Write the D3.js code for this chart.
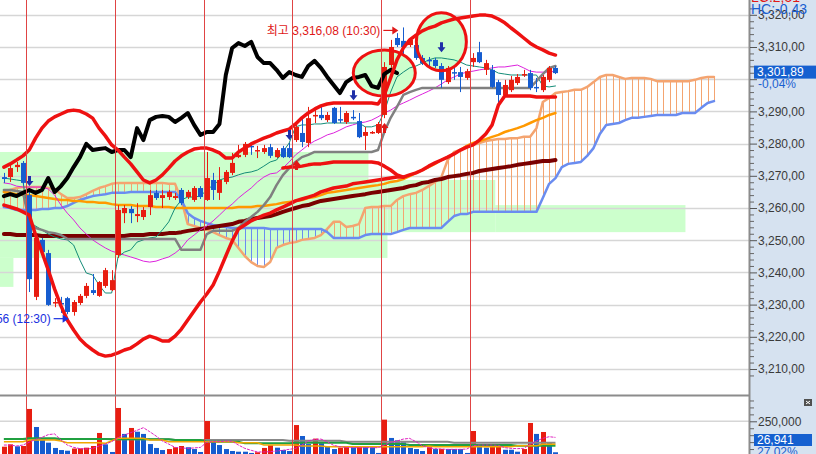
<!DOCTYPE html>
<html>
<head>
<meta charset="utf-8">
<script src="https://cdn.jsdelivr.net/npm/d3@7"></script>
<style>
  body { margin: 0; background: #fff; }
  svg { display: block; }
  text { font-family: "Liberation Sans", "Noto Sans CJK KR", sans-serif; }
</style>
</head>
<body>
<svg id="chart" width="816" height="454"></svg>
<script>
// 30-minute bars, 14 per session: [open, high, low, close]
const ohlc = [
  [3269.6,3270.9,3267.8,3269.0],[3269.6,3273.4,3268.1,3272.4],[3272.7,3274.3,3271.2,3273.4],[3274.0,3274.6,3267.1,3267.8],
  [3264.0,3265.6,3233.9,3237.9],[3232.4,3251.6,3231.4,3250.7],[3250.1,3250.7,3245.4,3246.3],[3246.0,3247.0,3229.6,3229.9],
  [3230.5,3232.0,3229.2,3230.8],[3230.5,3232.4,3227.4,3230.2],[3232.0,3232.4,3227.0,3227.7],[3227.7,3231.4,3226.56,3230.8],
  [3230.5,3233.3,3229.9,3232.7],[3232.7,3236.7,3232.0,3235.8],[3234.5,3239.5,3233.0,3233.6],[3232.7,3237.3,3232.4,3237.0],
  [3235.8,3241.4,3235.2,3240.7],[3234.5,3240.7,3234.2,3237.6],[3245.4,3260.9,3244.5,3259.4],[3258.4,3260.9,3255.3,3260.0],
  [3259.7,3260.6,3255.3,3258.4],[3257.5,3261.5,3255.6,3258.1],[3257.2,3260.3,3256.3,3259.4],[3260.3,3265.6,3257.8,3264.0],
  [3264.7,3265.6,3262.5,3263.1],[3263.1,3265.6,3260.0,3264.0],[3263.4,3265.6,3262.5,3265.0],[3263.1,3264.7,3262.5,3263.7],
  [3265.6,3266.2,3260.9,3261.5],[3263.4,3265.6,3262.8,3265.0],[3262.5,3266.8,3261.9,3266.2],[3266.2,3266.8,3262.8,3263.4],
  [3262.5,3277.4,3262.2,3269.3],[3268.7,3270.9,3262.5,3265.6],[3264.7,3272.7,3262.5,3268.7],[3268.1,3271.8,3267.4,3271.2],
  [3270.9,3277.1,3270.2,3274.0],[3275.8,3279.6,3275.5,3276.5],[3276.5,3280.5,3275.8,3279.9],[3279.3,3280.2,3276.5,3278.9],
  [3277.7,3279.3,3275.5,3278.0],[3277.4,3279.6,3276.8,3278.6],[3278.9,3279.9,3275.5,3276.2],[3275.8,3278.6,3275.5,3278.0],
  [3278.6,3279.3,3275.5,3275.8],[3278.6,3280.2,3275.5,3275.8],[3281.1,3286.4,3280.5,3285.2],[3283.3,3288.3,3278.9,3280.5],
  [3280.2,3291.4,3278.9,3287.9],[3288.6,3291.4,3286.4,3288.9],[3288.9,3291.4,3287.3,3287.9],[3287.3,3289.8,3286.7,3288.9],
  [3291.1,3291.4,3286.1,3286.4],[3287.6,3291.4,3286.4,3287.3],[3286.7,3290.1,3286.1,3289.5],[3288.3,3290.4,3287.3,3287.9],
  [3287.0,3289.5,3281.7,3282.0],[3282.4,3285.2,3278.0,3283.6],[3283.3,3283.9,3283.0,3283.6],[3283.3,3286.7,3283.0,3286.1],
  [3288.9,3305.3,3287.9,3303.8],[3304.4,3312.2,3303.5,3310.0],[3312.8,3314.3,3310.0,3310.6],[3311.9,3316.08,3307.5,3310.0],
  [3310.6,3312.8,3310.0,3312.2],[3310.6,3312.2,3306.0,3306.6],[3306.6,3307.5,3304.4,3305.0],[3306.0,3306.9,3303.8,3305.7],
  [3306.0,3306.6,3303.5,3304.1],[3304.1,3305.0,3297.3,3299.8],[3299.1,3304.1,3298.5,3303.5],[3302.2,3303.8,3299.8,3301.9],
  [3302.2,3303.8,3296.0,3300.7],[3300.4,3303.2,3299.8,3302.5],[3305.3,3308.1,3303.8,3306.6],[3308.4,3311.6,3305.0,3305.3],
  [3302.9,3306.0,3301.3,3305.0],[3302.9,3304.4,3297.3,3297.6],[3299.1,3299.8,3291.4,3295.1],[3295.1,3299.8,3294.5,3298.2],
  [3296.6,3301.0,3296.0,3299.8],[3298.8,3301.6,3298.2,3300.7],[3301.3,3302.9,3300.7,3301.6],[3301.9,3302.9,3296.6,3297.3],
  [3297.6,3300.4,3296.0,3297.3],[3296.6,3301.3,3296.0,3300.7],[3299.8,3304.1,3299.1,3303.5],[3303.5,3304.1,3301.6,3301.89]
];

const volumes = [
  67000,84000,70000,72000,339000,209000,115000,96000,58000,43000,
  38000,54000,55000,60000,72000,166000,84000,29000,346000,159000,
  202000,175000,159000,86000,58000,43000,50000,63000,72000,63000,
  50000,29000,252000,122000,79000,50000,36000,31000,31000,22000,
  27000,58000,77000,60000,43000,36000,223000,144000,86000,125000,
  92000,65000,50000,60000,67000,63000,67000,67000,63000,22000,
  262000,130000,113000,99000,58000,50000,36000,63000,50000,51000,
  50000,50000,50000,22000,180000,72000,60000,67000,68000,45000,
  45000,31000,50000,238000,159000,173000,96000,26941
];

// Ichimoku leading spans (run 25 bars past the last candle)
const spanA = [
  3265.0,3265.6,3266.2,3266.5,3266.5,3266.5,3266.5,3266.2,3265.9,3264.3,
  3263.1,3263.1,3263.4,3264.3,3265.3,3266.2,3266.8,3267.5,3267.8,3267.8,
  3267.8,3267.8,3267.8,3267.8,3267.8,3267.8,3267.5,3267.5,3262.5,3255.0,
  3254.4,3253.8,3253.2,3252.5,3251.6,3250.7,3250.1,3247.6,3245.1,3243.2,
  3242.0,3241.7,3243.2,3247.6,3248.5,3249.1,3249.4,3250.1,3250.4,3250.7,
  3251.6,3253.5,3255.7,3255.7,3254.1,3254.4,3255.0,3260.0,3260.3,3260.3,
  3260.6,3260.6,3262.5,3263.7,3264.3,3264.7,3265.6,3266.8,3268.1,3269.6,
  3274.9,3277.4,3278.0,3278.9,3279.6,3280.2,3280.8,3281.1,3281.4,3281.4,
  3281.7,3281.7,3282.1,3282.1,3284.8,3292.9,3294.2,3295.7,3296.0,3296.3,
  3296.7,3296.7,3297.6,3299.1,3300.7,3301.3,3301.3,3300.7,3300.1,3300.4,
  3300.4,3300.4,3300.1,3299.4,3299.4,3299.4,3299.4,3299.4,3299.4,3299.8,
  3300.4,3300.7,3300.7
];
const spanB = [
  3260.3,3260.0,3259.4,3259.4,3259.4,3259.4,3259.7,3259.7,3260.0,3260.0,
  3260.6,3261.6,3262.5,3263.1,3263.7,3264.0,3264.3,3264.7,3264.7,3264.7,
  3265.0,3265.0,3265.0,3265.0,3265.0,3265.0,3265.0,3265.0,3262.5,3258.4,
  3256.9,3256.0,3255.3,3254.7,3254.4,3254.1,3253.8,3253.8,3253.8,3253.8,
  3253.8,3253.8,3253.5,3253.5,3253.5,3253.5,3253.5,3253.5,3253.5,3253.5,
  3253.5,3252.5,3250.7,3250.7,3250.7,3250.7,3250.7,3251.6,3251.9,3251.9,
  3251.9,3251.9,3252.5,3253.2,3253.8,3253.8,3253.8,3253.8,3253.8,3253.8,
  3255.7,3257.5,3258.1,3258.1,3258.8,3258.8,3258.8,3258.8,3258.8,3258.8,
  3258.8,3258.8,3258.8,3258.8,3258.8,3263.1,3267.5,3269.3,3272.7,3273.7,
  3274.0,3274.3,3276.2,3278.6,3283.0,3285.8,3286.1,3286.4,3287.3,3288.0,
  3288.0,3288.3,3288.6,3288.9,3288.9,3288.9,3288.9,3289.5,3289.5,3289.5,
  3291.1,3292.6,3293.2
];
const kijun = [
  3265.6,3265.6,3265.3,3265.0,3255.7,3253.8,3253.2,3252.5,3252.2,3251.6,
  3250.4,3250.4,3250.4,3250.4,3250.4,3250.4,3250.4,3250.4,3250.4,3250.4,
  3250.4,3250.4,3250.4,3250.4,3250.4,3250.4,3250.4,3250.4,3247.0,3247.0,
  3247.0,3247.0,3251.9,3252.9,3252.9,3252.9,3252.9,3253.8,3255.7,3257.2,
  3258.8,3260.9,3263.4,3267.1,3270.2,3272.4,3274.3,3275.8,3276.5,3277.4,
  3277.4,3277.4,3277.4,3277.4,3277.4,3277.4,3277.4,3277.4,3277.4,3278.0,
  3283.6,3288.0,3291.4,3295.1,3296.0,3296.7,3297.3,3297.3,3297.3,3297.3,
  3297.3,3297.3,3297.3,3297.3,3297.3,3297.3,3297.3,3297.3,3297.3,3297.3,
  3297.3,3297.3,3297.3,3297.3,3299.4,3301.6,3303.5,3304.1
];
const tenkan = [
  3269.3,3269.0,3268.7,3268.4,3255.7,3254.4,3253.2,3251.9,3251.0,3250.4,
  3250.1,3248.5,3243.8,3239.8,3239.2,3236.1,3233.6,3233.6,3244.8,3246.3,
  3247.0,3249.4,3250.1,3250.7,3251.0,3253.2,3255.7,3260.0,3262.5,3263.4,
  3263.4,3263.7,3265.6,3267.1,3268.7,3269.3,3269.6,3270.3,3270.9,3271.2,
  3271.8,3273.0,3274.3,3274.9,3277.4,3280.2,3285.2,3285.8,3285.8,3286.1,
  3286.1,3286.4,3286.4,3286.4,3286.4,3286.4,3286.4,3285.2,3285.2,3285.8,
  3289.8,3296.0,3300.7,3302.2,3303.5,3304.1,3305.0,3306.0,3306.6,3306.6,
  3306.3,3306.0,3305.3,3304.4,3304.1,3303.8,3303.5,3302.9,3301.9,3301.6,
  3301.3,3301.3,3301.3,3301.3,3301.3,3297.9,3297.6,3297.9
];
const ma20 = [
  3267.8,3267.5,3266.8,3266.5,3266.5,3266.5,3266.5,3265.9,3264.0,3260.9,
  3258.4,3256.3,3253.8,3251.9,3250.1,3248.8,3247.6,3246.6,3246.0,3245.4,
  3244.8,3244.2,3243.5,3243.2,3243.5,3244.2,3244.8,3246.0,3247.6,3250.1,
  3251.6,3253.2,3254.4,3256.0,3257.8,3259.7,3261.2,3263.1,3264.7,3266.2,
  3268.1,3269.6,3270.6,3270.9,3272.4,3274.3,3276.5,3278.0,3279.6,3280.8,
  3281.7,3282.7,3283.3,3284.2,3285.2,3285.8,3286.4,3286.7,3287.3,3288.3,
  3289.5,3290.4,3291.7,3292.6,3293.5,3294.5,3295.4,3296.3,3297.3,3298.5,
  3299.8,3300.7,3301.6,3302.2,3302.5,3302.9,3303.2,3303.5,3303.8,3303.8,
  3304.1,3304.4,3303.5,3302.5,3302.2,3302.2,3302.2,3302.5
];
const ma60 = [
  3265.0,3264.7,3264.3,3264.0,3264.0,3263.7,3263.4,3263.1,3262.8,3262.5,
  3262.5,3262.2,3262.2,3261.9,3261.9,3261.6,3261.6,3261.2,3260.9,3260.9,
  3260.9,3260.6,3260.6,3260.6,3260.3,3260.3,3260.3,3260.0,3260.0,3260.0,
  3260.0,3260.0,3260.0,3260.0,3260.0,3260.0,3260.0,3260.3,3260.3,3260.3,
  3260.6,3260.6,3260.9,3261.2,3261.6,3261.9,3262.2,3262.5,3263.1,3263.4,
  3264.0,3264.7,3265.0,3265.3,3265.6,3265.9,3266.2,3266.5,3266.8,3267.1,
  3267.5,3268.1,3268.4,3269.0,3269.9,3270.9,3271.8,3272.7,3273.7,3274.9,
  3275.8,3276.8,3278.0,3279.3,3280.2,3280.8,3281.4,3282.1,3282.7,3283.6,
  3284.2,3284.8,3285.5,3286.4,3287.3,3288.0,3288.9,3289.5
];
const ma120 = [
  3251.9,3251.9,3251.6,3251.6,3251.6,3251.6,3251.3,3251.3,3251.3,3251.3,
  3251.3,3251.3,3251.3,3251.3,3251.3,3251.3,3251.3,3251.3,3251.3,3251.3,
  3251.6,3251.6,3251.6,3251.9,3251.9,3251.9,3252.2,3252.2,3252.5,3252.9,
  3253.2,3253.5,3253.8,3254.1,3254.4,3254.7,3255.0,3255.7,3256.0,3256.6,
  3256.9,3257.2,3257.5,3258.1,3258.8,3259.4,3260.0,3260.6,3260.9,3261.6,
  3262.2,3262.5,3262.8,3263.1,3263.4,3263.7,3264.0,3264.3,3264.7,3265.0,
  3265.3,3265.6,3265.9,3266.2,3266.8,3267.1,3267.8,3268.1,3268.7,3269.0,
  3269.6,3269.9,3270.2,3270.6,3270.9,3271.5,3271.8,3272.1,3272.4,3272.7,
  3273.0,3273.4,3273.7,3274.0,3274.3,3274.6,3274.6,3274.9
];
const bbUpper = [
  3272.7,3273.7,3274.9,3276.2,3278.0,3281.7,3284.8,3287.0,3288.3,3289.2,
  3290.1,3290.4,3290.1,3289.2,3287.9,3284.8,3282.4,3279.6,3278.0,3275.8,
  3273.7,3271.2,3268.7,3267.8,3268.7,3270.3,3272.4,3274.6,3276.2,3277.4,
  3278.3,3278.6,3278.6,3278.0,3277.1,3275.5,3275.5,3277.4,3278.6,3279.9,
  3280.8,3281.7,3282.4,3283.3,3283.9,3284.5,3286.1,3288.0,3289.5,3290.7,
  3291.7,3292.3,3292.6,3292.6,3292.6,3292.6,3292.6,3292.6,3292.6,3292.3,
  3295.1,3300.4,3306.0,3309.7,3312.2,3313.7,3315.0,3315.9,3316.5,3317.5,
  3318.1,3318.7,3319.0,3319.3,3319.6,3319.9,3319.9,3319.6,3318.7,3317.5,
  3315.9,3314.4,3312.8,3311.2,3310.0,3309.1,3308.1,3307.5
];
const bbLower = [
  3260.9,3260.3,3259.7,3258.8,3257.8,3251.6,3246.3,3240.7,3234.8,3229.6,
  3225.2,3222.1,3219.3,3217.4,3215.9,3214.6,3214.0,3214.3,3215.0,3215.9,
  3216.5,3217.8,3219.3,3220.2,3219.6,3218.7,3218.7,3220.2,3222.4,3225.2,
  3228.0,3230.8,3233.3,3236.1,3240.4,3245.1,3249.7,3253.5,3254.7,3256.0,
  3256.9,3257.8,3258.4,3259.4,3260.3,3261.2,3262.2,3262.8,3263.4,3264.0,
  3265.0,3265.6,3266.2,3266.5,3266.8,3267.5,3267.8,3268.1,3268.4,3268.7,
  3269.0,3269.3,3269.6,3269.6,3270.3,3270.9,3271.8,3273.0,3274.0,3274.9,
  3275.8,3276.8,3278.0,3278.9,3279.6,3281.1,3283.0,3285.8,3292.0,3294.8,
  3294.8,3294.8,3294.8,3294.8,3294.5,3294.5,3294.5,3294.5
];
// short band segment, bars 44..63
const bbInnerStart = 44;
const bbInner = [
  3272.4,3272.7,3272.7,3273.0,3273.4,3273.7,3273.7,3274.0,3274.3,3274.3,
  3274.3,3274.3,3274.3,3274.3,3274.3,3274.0,3273.0,3271.8,3270.3,3269.6
];
// lagging span (close shifted back)
const chikou = [
  3263.7,3264.3,3263.7,3264.7,3265.6,3264.7,3265.6,3269.3,3265.0,3266.8,
  3269.3,3272.7,3275.8,3279.9,3278.0,3278.3,3278.6,3277.4,3278.0,3278.0,
  3275.8,3284.8,3281.1,3287.3,3288.3,3288.6,3288.3,3286.7,3288.0,3289.5,
  3285.8,3282.7,3283.6,3283.6,3286.1,3301.3,3309.7,3311.2,3310.3,3311.6,
  3306.9,3305.0,3305.0,3302.9,3300.4,3302.2,3301.3,3300.7,3304.1,3305.7,
  3303.5,3300.7,3298.2,3295.7,3299.1,3300.4,3300.7,3301.3,3297.9,3297.3,
  3301.6,3302.9,3301.9
];

// volume moving averages (thousands)
const volMa5 = [
  79,79,72,79,99,120,134,154,159,115, 79,62,53,50,55,72,86,103,132,151,
  168,185,204,175,144,108,86,62,58,55, 58,62,99,103,103,108,106,79,55,41,
  29,29,31,36,41,48,55,79,108,120, 122,103,77,67,62,60,60,60,60,60,
  79,99,108,122,127,103,74,60,53,50, 48,48,48,50,74,79,79,79,77,60,
  55,53,55,84,108,127,139,134
];
const volMa10 = [
  103,103,103,103,115,115,115,115,115,108, 95,95,95,95,95,95,91,110,127,127,
  127,127,127,115,115,115,103,103,103,103, 103,103,103,103,103,103,103,95,95,95,
  95,79,79,79,79,79,79,72,72,72, 72,67,67,67,67,67,67,67,67,67,
  67,67,67,67,67,67,67,72,67,67, 67,67,67,67,67,67,67,67,67,67,
  67,74,74,74,74,84,84,84
];
const volMa20 = [
  122,122,122,122,127,127,127,127,127,122, 122,122,122,122,122,122,122,120,120,120,
  120,120,120,120,120,120,120,115,115,115, 115,115,103,103,103,103,103,103,91,91,
  91,91,91,91,91,91,96,96,96,96, 96,96,96,96,96,86,86,86,86,86,
  86,86,86,86,79,79,79,79,79,79, 79,79,79,79,79,79,79,79,79,79,
  79,74,74,74,74,74,74,74
];
const volMa60 = [
  122,122,122,122,122,122,122,122,122,122, 122,122,122,122,122,122,122,122,120,120,
  120,120,120,120,120,120,120,115,115,115, 115,115,115,115,115,115,115,115,115,115,
  115,115,115,115,115,110,110,110,110,110, 110,110,110,110,103,103,103,103,103,103,
  103,103,103,103,103,103,103,103,103,103, 103,96,96,96,96,96,96,96,96,96,
  96,96,96,96,96,96,96,96
];

const dayStarts = [4, 18, 32, 46, 60, 74];
const priceTicks = [3210, 3220, 3230, 3240, 3250, 3260, 3270, 3280, 3290, 3300, 3310, 3320];
const volTicks = [250000];
// highlighted price zones: [first bar, last bar, low, high]
const zones = [
  [0, 57, 3268.7, 3277.4],
  [0, 60, 3244.5, 3268.7],
  [61, 77, 3252.5, 3268.7],
  [78, 107, 3252.5, 3260.9],
  [0, 1, 3235.5, 3244.5]
];
const sellSignals = [[4, 3266.8], [45, 3281.1], [55, 3293.5], [69, 3308.4]];
const buySignals = [[46, 3274.9], [60, 3286.4]];
const circleMarks = [[60, 3301.9], [69, 3311.6]];
const highMark = { bar: 63, price: 3316.08, label: "최고 3,316,08 (10:30)" };
const lowMark = { bar: 11, price: 3226.56, label: "최저 3,226,56 (12:30)" };
const lastClose = 3301.89;
const lastChange = "-0,04%";
const lastVolLabel = "26,941";
const lastVolChange = "27,02%";
const hcLabel = "HC:-0,43";
const lcLabel = "LC:2,51";

// ---- layout ----
const plotW = 749, priceBottom = 395;
const step = 6.34;
const RED = "#e81d10", BLUE = "#165ccf";

const x = d3.scaleLinear().domain([0, 112]).range([3.9, 3.9 + step * 112]);
const y = d3.scaleLinear().domain([3210, 3310]).range([369, 47]);
const yv = d3.scaleLinear().domain([0, 250000]).range([456, 421.3]);

const fmtPrice = v => d3.format(",.2f")(v).replace(/\.(\d+)$/, ",$1");

const svg = d3.select("#chart");
svg.append("rect").attr("width", 816).attr("height", 454).attr("fill", "#fff");

const defs = svg.append("defs");
defs.append("clipPath").attr("id", "clipP")
  .append("rect").attr("width", plotW).attr("height", priceBottom);
defs.append("clipPath").attr("id", "clipV")
  .append("rect").attr("y", priceBottom + 1).attr("width", plotW).attr("height", 454 - priceBottom);

const gP = svg.append("g").attr("clip-path", "url(#clipP)");

// green zones
gP.selectAll("rect.zone").data(zones).join("rect")
  .attr("class", "zone")
  .attr("x", d => d[0] === 0 ? 0 : x(d[0]) - step / 2)
  .attr("width", d => x(d[1]) + step / 2 - (d[0] === 0 ? 0 : x(d[0]) - step / 2))
  .attr("y", d => y(d[3]))
  .attr("height", d => y(d[2]) - y(d[3]))
  .attr("fill", "#ccffcc");

// gridlines
gP.selectAll("line.grid").data(priceTicks).join("line")
  .attr("x1", 0).attr("x2", plotW)
  .attr("y1", d => Math.round(y(d)) + 0.5).attr("y2", d => Math.round(y(d)) + 0.5)
  .attr("stroke", "#d6d6d6").attr("stroke-width", 1.5);

const gV = svg.append("g").attr("clip-path", "url(#clipV)");
gV.selectAll("line.grid").data(volTicks).join("line")
  .attr("x1", 0).attr("x2", plotW)
  .attr("y1", d => yv(d)).attr("y2", d => yv(d))
  .attr("stroke", "#d6d6d6").attr("stroke-width", 1.5);

// session separators
svg.append("g").selectAll("line").data(dayStarts).join("line")
  .attr("x1", d => Math.round(x(d) - step / 2) + 0.5).attr("x2", d => Math.round(x(d) - step / 2) + 0.5)
  .attr("y1", 0).attr("y2", 454)
  .attr("stroke", "#e04444").attr("stroke-width", 1);

// annotation ellipse fills
const ellR = [[31, 23], [25, 29]];
gP.selectAll("ellipse.fill").data(circleMarks).join("ellipse")
  .attr("cx", d => x(d[0])).attr("cy", d => y(d[1]))
  .attr("rx", (d, i) => ellR[i][0]).attr("ry", (d, i) => ellR[i][1])
  .attr("fill", "#ccffcc");

// cloud hatching
const cloudIdx = d3.range(spanA.length);
gP.append("g").selectAll("line").data(cloudIdx).join("line")
  .attr("x1", i => Math.round(x(i)) + 0.5).attr("x2", i => Math.round(x(i)) + 0.5)
  .attr("y1", i => y(spanA[i])).attr("y2", i => y(spanB[i]))
  .attr("stroke", i => spanA[i] >= spanB[i] ? "#f4a470" : "#6a8cf0")
  .attr("stroke-width", 1);

const priceLine = (start = 0) => d3.line().x((d, i) => x(i + start)).y(d => y(d));
function drawLine(g, data, color, width, start = 0, dash = null) {
  const p = g.append("path").datum(data)
    .attr("d", priceLine(start))
    .attr("fill", "none").attr("stroke", color).attr("stroke-width", width)
    .attr("stroke-linejoin", "round").attr("stroke-linecap", "round");
  if (dash) p.attr("stroke-dasharray", dash);
  return p;
}

drawLine(gP, spanA, "#f4a470", 2.5);
drawLine(gP, spanB, "#6a8cf0", 2.5);
drawLine(gP, ma120, "#7a0000", 4);
drawLine(gP, ma60, "#ff9900", 2.5);
drawLine(gP, ma20, "#dd22dd", 1);
drawLine(gP, tenkan, "#148c78", 1);
drawLine(gP, kijun, "#808080", 2.5);

// candles
const candle = gP.append("g").selectAll("g").data(ohlc).join("g");
const cColor = d => d[3] >= d[0] ? RED : BLUE;
candle.append("line")
  .attr("x1", (d, i) => Math.round(x(i)) + 0.5).attr("x2", (d, i) => Math.round(x(i)) + 0.5)
  .attr("y1", d => y(d[1])).attr("y2", d => y(d[2]))
  .attr("stroke", cColor).attr("stroke-width", 1);
candle.append("rect")
  .attr("x", (d, i) => Math.round(x(i)) - 2).attr("width", 5)
  .attr("y", d => y(Math.max(d[0], d[3])))
  .attr("height", d => Math.max(1.5, Math.abs(y(d[0]) - y(d[3]))))
  .attr("fill", cColor);

drawLine(gP, chikou, "#000", 4);
drawLine(gP, bbUpper, "#ee1111", 3.5);
drawLine(gP, bbLower, "#ee1111", 3.5);
drawLine(gP, bbInner, "#ee1111", 3.5, bbInnerStart);

// signal arrows
gP.selectAll("path.sell").data(sellSignals).join("path")
  .attr("d", d => {
    const cx = Math.round(x(d[0])) + 0.5, ty = y(d[1]);
    return `M${cx - 1.5},${ty - 10}h3v5h2.5L${cx},${ty}L${cx - 4},${ty - 5}h2.5Z`;
  })
  .attr("fill", "#1f2fa8");
gP.selectAll("path.buy").data(buySignals).join("path")
  .attr("d", d => {
    const cx = Math.round(x(d[0])) + 0.5, ty = y(d[1]);
    return `M${cx - 1.5},${ty + 10}h3v-5h2.5L${cx},${ty}L${cx - 4},${ty + 5}h2.5Z`;
  })
  .attr("fill", "#e01818");

// ellipse outlines
gP.selectAll("ellipse.stroke").data(circleMarks).join("ellipse")
  .attr("cx", d => x(d[0])).attr("cy", d => y(d[1]))
  .attr("rx", (d, i) => ellR[i][0]).attr("ry", (d, i) => ellR[i][1])
  .attr("fill", "none").attr("stroke", "#ee1111").attr("stroke-width", 3);

// volume bars, red when volume rises
gV.append("g").selectAll("rect").data(volumes).join("rect")
  .attr("x", (d, i) => Math.round(x(i)) - 2).attr("width", 5)
  .attr("y", d => yv(d)).attr("height", d => 456 - yv(d))
  .attr("fill", (d, i) => (i === 0 || d > volumes[i - 1]) ? RED : BLUE);

const volLine = d3.line().x((d, i) => x(i)).y(d => yv(d * 1000));
[[volMa60, "#888", 2, null], [volMa20, "#20a040", 2, null], [volMa10, "#f0a800", 1.5, null], [volMa5, "#e020c0", 1, "3,1"]]
  .forEach(([data, color, w, dash]) => {
    const p = gV.append("path").datum(data).attr("d", volLine)
      .attr("fill", "none").attr("stroke", color).attr("stroke-width", w);
    if (dash) p.attr("stroke-dasharray", dash);
  });

// panel separator
svg.append("line").attr("x1", 0).attr("x2", plotW)
  .attr("y1", priceBottom + 0.5).attr("y2", priceBottom + 0.5)
  .attr("stroke", "#8c8c8c").attr("stroke-width", 2);

// ---- right axis panel ----
svg.append("rect").attr("x", plotW).attr("y", 0).attr("width", 816 - plotW).attr("height", 454)
  .attr("fill", "#d6e2f0");
svg.append("line").attr("x1", plotW + 0.5).attr("x2", plotW + 0.5).attr("y1", 0).attr("y2", 454)
  .attr("stroke", "#8c8c8c").attr("stroke-width", 2);

const minorP = d3.range(3208, 3324, 2).filter(v => v % 10 !== 0);
const gMinor = svg.append("g").attr("transform", `translate(${plotW + 1},0)`)
  .call(d3.axisRight(y).tickValues(minorP).tickSize(4).tickFormat(""));
gMinor.select(".domain").remove();
gMinor.selectAll("line").attr("stroke", "#666");

const yc = y(lastClose);
const gAxP = svg.append("g").attr("transform", `translate(${plotW + 1},0)`)
  .call(d3.axisRight(y).tickValues(priceTicks).tickSize(7).tickPadding(1).tickFormat(fmtPrice));
gAxP.select(".domain").remove();
gAxP.selectAll("line").attr("stroke", "#555");
gAxP.selectAll("text").attr("font-size", 12).attr("fill", "#3a3a3a")
  .attr("font-family", "Liberation Sans, sans-serif");
// the current-price box hides the tick label beside it
gAxP.selectAll(".tick").filter(d => Math.abs(y(d) - yc) < 14).select("text").remove();

const minorV = d3.range(50000, 450000, 50000).filter(v => v !== 250000);
const gMinorV = svg.append("g").attr("transform", `translate(${plotW + 1},0)`)
  .call(d3.axisRight(yv).tickValues(minorV).tickSize(4).tickFormat(""));
gMinorV.select(".domain").remove();
gMinorV.selectAll("line").attr("stroke", "#666");
gMinorV.selectAll(".tick").filter(d => yv(d) < priceBottom + 2 || yv(d) > 454).remove();

const gAxV = svg.append("g").attr("transform", `translate(${plotW + 1},0)`)
  .call(d3.axisRight(yv).tickValues(volTicks).tickSize(7).tickPadding(1).tickFormat(d3.format(",")));
gAxV.select(".domain").remove();
gAxV.selectAll("line").attr("stroke", "#555");
gAxV.selectAll("text").attr("font-size", 12).attr("fill", "#3a3a3a")
  .attr("font-family", "Liberation Sans, sans-serif");

// current price box
svg.append("rect").attr("x", 754).attr("y", yc - 7.5).attr("width", 62).attr("height", 13).attr("fill", "#1560d0");
svg.append("text").attr("x", 757).attr("y", yc - 1).attr("dy", "0.35em")
  .attr("font-size", 12).attr("fill", "#fff").text(fmtPrice(lastClose));
svg.append("text").attr("x", 758).attr("y", yc + 11).attr("dy", "0.35em")
  .attr("font-size", 12).attr("fill", "#1a5fd0").text(lastChange);

// current volume box
svg.append("rect").attr("x", 754).attr("y", 434).attr("width", 58).attr("height", 12).attr("fill", "#1560d0");
svg.append("text").attr("x", 757).attr("y", 440).attr("dy", "0.35em")
  .attr("font-size", 12).attr("fill", "#fff").text(lastVolLabel);
svg.append("text").attr("x", 757).attr("y", 452).attr("dy", "0.35em")
  .attr("font-size", 12).attr("fill", "#1a5fd0").text(lastVolChange);

// small close icon on volume panel
svg.append("rect").attr("x", 804).attr("y", 399).attr("width", 8).attr("height", 7).attr("fill", "#505050");
svg.append("path").attr("d", "M806,401L810,404M810,401L806,404").attr("stroke", "#fff").attr("stroke-width", 1);

// HC / LC labels at top of axis
svg.append("text").attr("x", 751).attr("y", -3).attr("dy", "0.35em")
  .attr("font-size", 14).attr("fill", "#e01818").text(lcLabel);
svg.append("text").attr("x", 751).attr("y", 9).attr("dy", "0.35em")
  .attr("font-size", 14).attr("fill", "#1a5fd0").text(hcLabel);

// high / low annotations
function markLabel(m, color) {
  const tipX = x(m.bar) - 5, cy = y(m.price) + 3;
  const g = svg.append("g");
  g.append("text").attr("x", tipX - 18).attr("y", cy).attr("dy", "0.35em")
    .attr("text-anchor", "end").attr("font-size", 12).attr("fill", color)
    .attr("font-family", "Liberation Sans, Noto Sans CJK KR, sans-serif")
    .text(m.label);
  g.append("line").attr("x1", tipX - 15).attr("x2", tipX - 4).attr("y1", cy).attr("y2", cy)
    .attr("stroke", color).attr("stroke-width", 1.2);
  g.append("path").attr("d", `M${tipX},${cy}L${tipX - 6},${cy - 4}L${tipX - 6},${cy + 4}Z`).attr("fill", color);
}
markLabel(highMark, "#e01818");
markLabel(lowMark, "#1a30e0");
</script>
</body>
</html>
